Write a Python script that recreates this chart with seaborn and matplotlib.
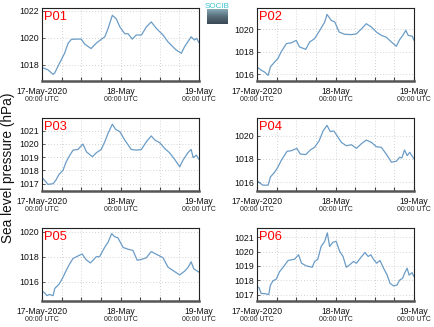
import numpy as np
import pandas as pd
import matplotlib
matplotlib.use("Agg")
import matplotlib.pyplot as plt
import matplotlib.dates as mdates
import matplotlib.transforms as mtransforms
from matplotlib.colors import LinearSegmentedColormap
import seaborn as sns

# ---------------- data (hours since 17-May-2020 00:00 UTC, hPa) ----------------
p01_hours = [0, 1.8, 3.4, 3.9, 4.9, 5.9, 6.9, 8, 9, 10.5, 12, 13, 15, 16.6, 18.1, 19.2, 20.2, 21.5, 22.7,
             23.8, 25.3, 26.3, 27.6, 28.8, 30.4, 31.9, 33.4, 35, 37, 38.5, 40, 41, 42.6, 43.6, 44.6, 45.6,
             46.6, 47.3, 48]
p01_hpa = [1017.80, 1017.63, 1017.29, 1017.4, 1017.9, 1018.37, 1018.85, 1019.6, 1019.88, 1019.9, 1019.9,
           1019.54, 1019.2, 1019.6, 1019.88, 1020.07, 1020.68, 1021.66, 1021.4, 1020.8, 1020.3, 1020.3,
           1019.9, 1020.2, 1020.2, 1020.8, 1021.17, 1020.68, 1020.2, 1019.7, 1019.34, 1019.1, 1018.85,
           1019.34, 1019.7, 1020.07, 1019.83, 1019.95, 1019.63]

p02_hours = [0, 1.3, 2.3, 3.4, 4.1, 5.4, 6.4, 7.4, 9, 10.5, 12, 13, 14.9, 16.1, 17.6, 19.2, 20.7, 21.4, 22.7,
             23.8, 25.1, 26.8, 28.9, 30.4, 32, 33.4, 35, 36.5, 38, 39.5, 41.1, 42.6, 43.6, 44.6, 45.5, 46.2,
             47.5, 48]
p02_hpa = [1016.65, 1016.36, 1016.2, 1015.9, 1016.65, 1017.1, 1017.4, 1018.0, 1018.73, 1018.8, 1019.02,
           1018.43, 1018.22, 1018.87, 1019.17, 1019.91, 1020.65, 1021.33, 1020.8, 1020.65, 1019.76, 1019.56,
           1019.53, 1019.6, 1020.06, 1020.5, 1020.2, 1019.76, 1019.47, 1019.3, 1018.87, 1018.49, 1019.08,
           1019.47, 1019.91, 1019.47, 1019.38, 1019.02]

p03_hours = [0, 0.8, 1.8, 3.4, 4.2, 5.2, 6.4, 7.4, 8.5, 9.5, 11, 12.5, 13.6, 15.4, 16.6, 18.1, 19.2, 20.2,
             21.5, 22.5, 23.8, 25.3, 27.3, 28.8, 30.4, 31.9, 33.4, 34.5, 36, 37.5, 39, 40.6, 42.1, 43.1,
             44.6, 45.6, 46.2, 47.2, 48]
p03_hpa = [1017.46, 1017.25, 1016.95, 1017.0, 1017.25, 1017.7, 1018.0, 1018.65, 1019.15, 1019.53, 1019.58,
           1019.99, 1019.4, 1019.03, 1019.33, 1019.58, 1020.16, 1020.8, 1021.48, 1021.1, 1020.92, 1020.29,
           1019.58, 1019.53, 1019.58, 1020.16, 1020.6, 1020.29, 1020.09, 1019.66, 1019.33, 1018.82,
           1018.27, 1018.77, 1019.33, 1019.58, 1018.97, 1019.15, 1018.82]

p04_hours = [0, 0.8, 1.8, 3.4, 4.1, 5.4, 6.4, 7.4, 9.2, 10.5, 12.2, 13.2, 14.9, 16.3, 17.6, 19, 20.2, 21.4,
             22.4, 23.5, 24.5, 25.8, 27.3, 28.9, 30.4, 32, 33.4, 35, 36.5, 38, 39.5, 41.1, 42.6, 43.6, 44.3,
             45.1, 45.9, 46.7, 48]
p04_hpa = [1016.17, 1015.94, 1015.75, 1015.75, 1016.45, 1016.87, 1017.3, 1017.86, 1018.65, 1018.7, 1018.9,
           1018.42, 1018.37, 1018.76, 1018.99, 1019.55, 1020.39, 1020.87, 1020.34, 1020.39, 1019.97, 1019.41,
           1019.13, 1019.21, 1018.9, 1019.32, 1019.61, 1019.41, 1019.04, 1018.99, 1018.42, 1017.72, 1017.8,
           1018.14, 1018.08, 1018.76, 1018.28, 1018.56, 1018.0]

p05_hours = [0, 0.8, 1.5, 2.3, 3.4, 3.9, 5.2, 6.4, 7.4, 8.5, 9.5, 11, 12.3, 13.4, 14.8, 16.6, 17.6, 19.2,
             20.2, 21.3, 22.2, 23.2, 24.8, 26.3, 27.8, 29.1, 30.4, 31.9, 33.4, 35, 37, 38.5, 40, 42.1, 43.6,
             44.6, 45.6, 46.4, 48]
p05_hpa = [1015.24, 1015.1, 1014.88, 1014.97, 1014.88, 1015.46, 1015.79, 1016.34, 1016.9, 1017.45, 1017.86,
           1018.06, 1018.22, 1017.78, 1017.5, 1018.0, 1018.0, 1018.77, 1019.16, 1019.85, 1019.6, 1019.52,
           1018.74, 1018.6, 1018.5, 1017.72, 1017.78, 1017.92, 1018.41, 1018.19, 1017.92, 1017.17, 1016.9,
           1016.54, 1016.84, 1017.12, 1017.59, 1017.03, 1016.76]

p06_hours = [0, 0.6, 1.3, 2.3, 3.6, 4.1, 4.9, 5.9, 6.9, 8, 9.5, 11.5, 12.7, 13.6, 15.1, 16.9, 17.6, 18.6,
             19.6, 20.7, 21.5, 22.2, 23.2, 24.2, 25.3, 26.3, 27.3, 28.3, 29.5, 30.4, 32, 33, 34, 34.8, 35.6,
             36.6, 37.6, 38.7, 39.7, 40.7, 41.7, 42.8, 43.6, 44.5, 45.2, 45.9, 46.5, 47.4, 48]
p06_hpa = [1017.54, 1017.49, 1017.07, 1017.07, 1017.0, 1017.66, 1017.96, 1018.08, 1018.6, 1018.91, 1019.38,
           1019.47, 1019.78, 1019.19, 1019.0, 1018.91, 1019.31, 1019.47, 1020.36, 1020.72, 1021.31, 1020.36,
           1020.65, 1020.72, 1020.01, 1019.66, 1018.91, 1019.07, 1019.31, 1019.19, 1019.66, 1019.94, 1019.66,
           1019.78, 1019.47, 1019.19, 1019.38, 1018.84, 1018.41, 1017.78, 1017.61, 1017.66, 1018.01, 1018.13,
           1018.53, 1018.84, 1018.36, 1018.53, 1018.25]

panel_names = ["P01", "P02", "P03", "P04", "P05", "P06"]
panel_hours = [p01_hours, p02_hours, p03_hours, p04_hours, p05_hours, p06_hours]
panel_hpa = [p01_hpa, p02_hpa, p03_hpa, p04_hpa, p05_hpa, p06_hpa]
panel_ylims = [(1016.8, 1022.2), (1015.4, 1021.9), (1016.45, 1021.95),
               (1015.25, 1021.5), (1014.45, 1020.3), (1016.55, 1021.65)]
panel_yticks = [[1018, 1020, 1022], [1016, 1018, 1020], [1017, 1018, 1019, 1020, 1021],
                [1016, 1018, 1020], [1016, 1018, 1020], [1017, 1018, 1019, 1020, 1021]]
tick_labels = ["17-May-2020", "18-May", "19-May"]
sub_labels = ["00:00 UTC", "00:00 UTC", "00:00 UTC"]
y_label = "Sea level pressure (hPa)"
logo_text = "SOCIB"

# ---------------- style ----------------
sns.set_theme(style="white")
plt.rcParams["font.family"] = ["Liberation Sans", "DejaVu Sans"]

W, H = 434, 327
fig = plt.figure(figsize=(W / 100, H / 100), dpi=100)
fig.patch.set_facecolor("white")

start = pd.Timestamp("2020-05-17 00:00")
major_dates = [start + pd.Timedelta(hours=24 * i) for i in range(3)]
line_color = "#6b9cc6"
grid_color = "#c4c4c4"

col_left = [42, 257]
row_top = [8, 118, 228]
aw, ah = 157, 73

for i, name in enumerate(panel_names):
    r, c = divmod(i, 2)
    ax = fig.add_axes([col_left[c] / W, 1 - (row_top[r] + ah) / H, aw / W, ah / H])
    df = pd.DataFrame({
        "time": start + pd.to_timedelta(panel_hours[i], unit="h"),
        "hpa": panel_hpa[i],
    })
    sns.lineplot(data=df, x="time", y="hpa", ax=ax, color=line_color, linewidth=0.9)
    ax.set_xlim(major_dates[0], major_dates[-1])
    ax.set_ylim(*panel_ylims[i])
    ax.set_yticks(panel_yticks[i])
    ax.set_yticklabels([str(v) for v in panel_yticks[i]], fontsize=6.3, color="#111111")
    ax.set_xticks(major_dates)
    ax.set_xticklabels(tick_labels, fontsize=6.2, color="#111111")
    ax.xaxis.set_minor_locator(mdates.HourLocator(byhour=[6, 12, 18]))
    ax.set_xlabel("")
    ax.set_ylabel("")
    ax.grid(True, which="both", axis="x", color=grid_color, linestyle=(0, (1, 2.5)), linewidth=0.6)
    ax.grid(True, which="major", axis="y", color=grid_color, linestyle=(0, (1, 2.5)), linewidth=0.6)
    ax.tick_params(axis="x", which="both", direction="in", length=3, width=0.8, color="#444444",
                   pad=4, bottom=True)
    ax.tick_params(axis="y", which="major", direction="in", length=2, width=0.6, color="#444444",
                   pad=2, left=True)
    for side in ["top", "right", "left"]:
        ax.spines[side].set_color("#222222")
        ax.spines[side].set_linewidth(0.8)
    ax.spines["bottom"].set_color("#555555")
    ax.spines["bottom"].set_linewidth(1.8)
    trans = mtransforms.blended_transform_factory(ax.transData, ax.transAxes)
    for d, s in zip(major_dates, sub_labels):
        ax.text(d, -0.21, s, transform=trans, ha="center", va="top", fontsize=5.0, color="#222222")
    ax.text(0.013, 0.965, name, transform=ax.transAxes, ha="left", va="top", fontsize=9.3, color="red")

fig.text(8 / W, 1 - 168 / H, y_label, rotation=90, ha="center", va="center", fontsize=9.8, color="#111111")

# small logo
lax = fig.add_axes([207 / W, 1 - 24 / H, 21 / W, 21 / H])
grad = np.linspace(0, 1, 30).reshape(-1, 1)
cmap = LinearSegmentedColormap.from_list("logo", ["#86aab5", "#566c78", "#3a4955"])
lax.imshow(grad, aspect="auto", cmap=cmap, extent=(0, 1, 0, 0.7))
lax.text(0.5, 1.02, logo_text, ha="center", va="top", fontsize=5.8, color="#3fc2d2",
         transform=lax.transAxes)
lax.set_xlim(0, 1)
lax.set_ylim(0, 1)
lax.axis("off")

fig.savefig("out.png", dpi=100, facecolor="white")
